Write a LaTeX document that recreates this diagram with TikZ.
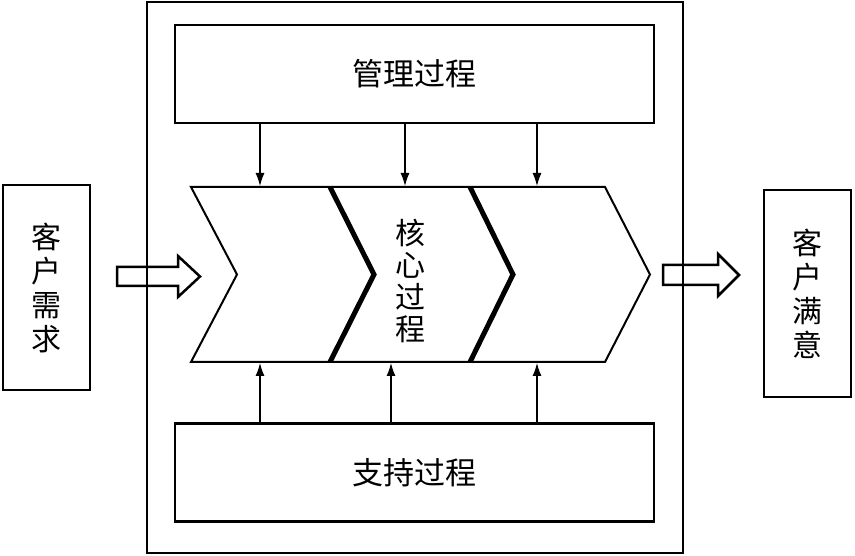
\documentclass[tikz,border=0pt]{standalone}
\usepackage{fontspec}
\newfontfamily\cjk{Noto Sans CJK SC}
\usepackage{tikz}
\usetikzlibrary{positioning,arrows.meta}

\tikzset{
  procbox/.style={draw, line width=2.5, minimum width=479pt, minimum height=98pt,
    font=\cjk\fontsize{31}{33}\selectfont},
  sidebox/.style={draw, line width=2.5, minimum width=87pt, align=center,
    font=\cjk\fontsize{30}{34}\selectfont},
  feed/.style={-{Latex[length=13pt,width=9pt]}, line width=1.2},
  chev/.style={line width=2, line join=miter},
  sep/.style={line width=5},
  hollow/.style={line width=2.5, line join=miter},
}

\begin{document}
\begin{tikzpicture}[x=1pt,y=-1pt]
    \useasboundingbox (0,0) rectangle (855,556);

    % system frame and the two process boxes
    \node [draw, line width=2.5, minimum width=536pt, minimum height=551pt] (sys) at (415,277.5) {};
    \node [procbox] (mgmt) at (414.5,74) {管理过程};
    \node [procbox] (supp) at (414.5,472.5) {支持过程};

    % customer boxes
    \node [sidebox, minimum height=205pt] (need) at (46.5,287.5) {客\\户\\需\\求};
    \node [sidebox, minimum height=207pt] (sat) at (807.5,293.5) {客\\户\\满\\意};

    % core process chevrons
    \draw[chev] (191,187) -- (605,187) -- (650,274.5) -- (605,362) -- (191,362) -- (237,274.5) -- cycle;
    \draw[sep] (330,187) -- (374,274.5) -- (330,362);
    \draw[sep] (470,187) -- (513,274.5) -- (470,362);
    \node [font=\cjk\fontsize{30}{32}\selectfont, align=center] (core) at (410,281) {核\\心\\过\\程};

    \coordinate (t1) at (260,186);
    \coordinate (t2) at (405,186);
    \coordinate (t3) at (537,186);
    \coordinate (b1) at (260,363);
    \coordinate (b2) at (391,363);
    \coordinate (b3) at (537,363);

    \foreach \i in {1,2,3} {
        \draw[feed] (mgmt.south -| t\i) -- (t\i);
        \draw[feed] (supp.north -| b\i) -- (b\i);
    }

    % hollow arrows in and out
    \draw[hollow] (117,267) -- (178,267) -- (178,256) -- (200,276.5) -- (178,297) -- (178,286) -- (117,286) -- cycle;
    \draw[hollow] (663,265) -- (718,265) -- (718,254) -- (739,275) -- (718,296) -- (718,285) -- (663,285) -- cycle;
\end{tikzpicture}
\end{document}
